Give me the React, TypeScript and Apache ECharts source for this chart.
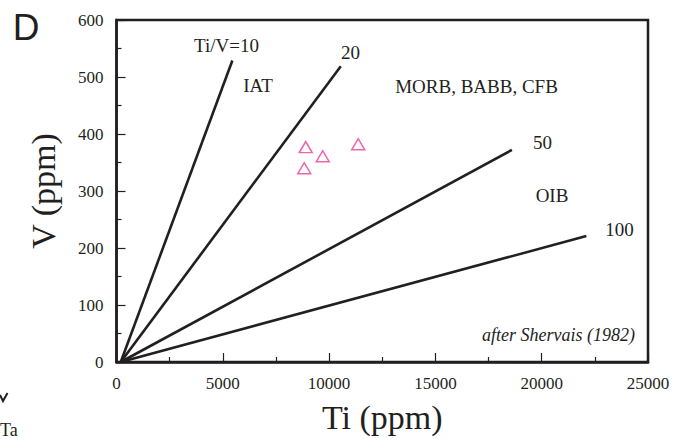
import React, { useEffect, useRef } from "react";
import * as echarts from "echarts";

// Ti/V reference lines: [start, end] in (Ti ppm, V ppm)
const lineTiV10: [number, number][] = [[200, 0], [5450, 529]];
const lineTiV20: [number, number][] = [[200, 0], [10550, 519]];
const lineTiV50: [number, number][] = [[200, 0], [18600, 372]];
const lineTiV100: [number, number][] = [[200, 0], [22100, 221]];

// Samples (Ti ppm, V ppm)
const samples: [number, number][] = [
  [8900, 377],
  [9700, 361],
  [8830, 340],
  [11370, 382],
];

const xTicks = { min: 0, max: 25000, interval: 5000 };
const yTicks = { min: 0, max: 600, interval: 100 };

const SERIF = "'Liberation Serif', 'Times New Roman', serif";
const INK = "#231f20";
const PINK = "#e8409c";

export default function App() {
  const ref = useRef<HTMLDivElement>(null);
  useEffect(() => {
    if (!ref.current) return;
    const chart = echarts.init(ref.current, null, { renderer: "svg" });
    const lineSeries = (data: [number, number][]) => ({
      type: "line",
      data,
      symbol: "none",
      silent: true,
      lineStyle: { color: INK, width: 2.6 },
      z: 3,
    });
    const annot = (text: string, x: number, y: number, extra: any = {}) => ({
      type: "text",
      x,
      y,
      style: {
        text,
        fontFamily: SERIF,
        fontSize: 19,
        fill: INK,
        align: "center",
        verticalAlign: "middle",
        ...extra,
      },
    });
    chart.setOption({
      animation: false,
      backgroundColor: "#ffffff",
      grid: {
        left: 116.5,
        top: 20,
        right: 31,
        bottom: 77,
        show: true,
        borderColor: INK,
        borderWidth: 2.5,
      },
      xAxis: {
        type: "value",
        min: xTicks.min,
        max: xTicks.max,
        interval: xTicks.interval,
        name: "Ti (ppm)",
        nameLocation: "middle",
        nameGap: 38,
        nameTextStyle: { fontFamily: SERIF, fontSize: 34, color: INK },
        axisLine: { show: true, lineStyle: { color: INK, width: 2.5 } },
        axisTick: { show: true, inside: true, length: 9, lineStyle: { color: INK, width: 1.2 } },
        minorTick: { show: true, splitNumber: 2, length: 5, lineStyle: { color: INK, width: 1.2 } },
        axisLabel: {
          fontFamily: SERIF,
          fontSize: 17,
          color: INK,
          margin: 13,
          showMinLabel: true,
          showMaxLabel: true,
          formatter: (v: number) => String(v),
        },
        splitLine: { show: false },
      },
      yAxis: {
        type: "value",
        min: yTicks.min,
        max: yTicks.max,
        interval: yTicks.interval,
        name: "V (ppm)",
        nameLocation: "middle",
        nameGap: 56,
        nameRotate: 90,
        nameTextStyle: { fontFamily: SERIF, fontSize: 34, color: INK },
        axisLine: { show: true, lineStyle: { color: INK, width: 2.5 } },
        axisTick: { show: true, inside: true, length: 9, lineStyle: { color: INK, width: 1.2 } },
        minorTick: { show: true, splitNumber: 2, length: 5, lineStyle: { color: INK, width: 1.2 } },
        axisLabel: {
          fontFamily: SERIF,
          fontSize: 17,
          color: INK,
          margin: 13,
          showMinLabel: true,
          showMaxLabel: true,
          formatter: (v: number) => String(v),
        },
        splitLine: { show: false },
      },
      series: [
        lineSeries(lineTiV10),
        lineSeries(lineTiV20),
        lineSeries(lineTiV50),
        lineSeries(lineTiV100),
        {
          type: "scatter",
          data: samples,
          symbol: "triangle",
          symbolSize: [13, 11],
          itemStyle: { color: "rgba(255,255,255,0)", borderColor: PINK, borderWidth: 1.5 },
          z: 4,
        },
      ],
      graphic: [
        annot("Ti/V=10", 226.5, 45),
        annot("20", 350.5, 52),
        annot("IAT", 258, 85),
        annot("MORB, BABB, CFB", 476.5, 86),
        annot("50", 542.5, 142.5),
        annot("OIB", 552, 195.5),
        annot("100", 619.5, 229),
        annot("after Shervais (1982)", 635, 335, { align: "right", fontStyle: "italic", fontSize: 18 }),
        {
          type: "text",
          x: 26,
          y: 27,
          style: {
            text: "D",
            fontFamily: "'Liberation Sans', Arial, sans-serif",
            fontSize: 37,
            fill: INK,
            align: "center",
            verticalAlign: "middle",
          },
        },
        {
          type: "polyline",
          shape: { points: [[0, 395], [3, 401], [7.5, 393]] },
          style: { stroke: INK, lineWidth: 2, fill: "none" },
        },
        {
          type: "text",
          x: 0,
          y: 439,
          style: {
            text: "Ta",
            fontFamily: SERIF,
            fontSize: 18,
            fill: INK,
            align: "left",
            verticalAlign: "bottom",
          },
        },
      ],
    });
    return () => chart.dispose();
  }, []);
  return <div ref={ref} style={{ width: 679, height: 439, position: "absolute", left: 0, top: 0 }} />;
}
